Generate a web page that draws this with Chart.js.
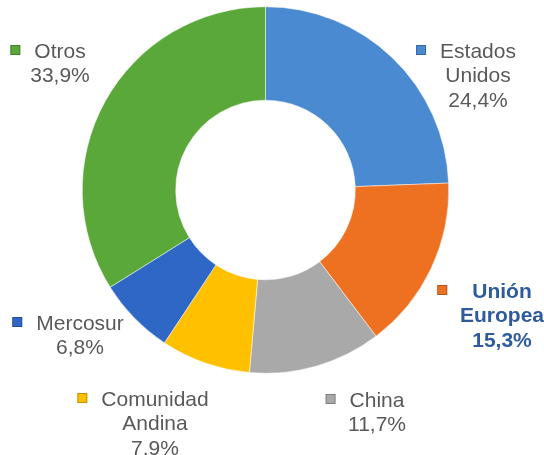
<!DOCTYPE html>
<html lang="es">
<head>
    <meta charset="UTF-8">
    <title>Destino de exportaciones</title>
    <style>
        body { margin: 0; background: #fff; }
        canvas { display: block; }
    </style>
</head>
<body>
    <canvas id="chart" width="544" height="455"></canvas>
    <script src="https://cdn.jsdelivr.net/npm/chart.js"></script>
    <script>
        // data
        const regions = ['Estados Unidos', 'Unión Europea', 'China', 'Comunidad Andina', 'Mercosur', 'Otros'];
        const labelLines = [['Estados', 'Unidos'], ['Unión', 'Europea'], ['China'], ['Comunidad', 'Andina'], ['Mercosur'], ['Otros']];
        const shares = [24.4, 15.3, 11.7, 7.9, 6.8, 33.9];
        const colors = ['#4a8ad0', '#ee7122', '#a9a9a9', '#ffc000', '#2f67c6', '#5ba83a'];

        // label placement (center x, first line y) per slice
        const labelSpots = [[478, 52], [502, 292], [377, 401], [155, 400], [80, 324], [60, 52]];
        const highlight = 1;

        const labelPlugin = {
            id: 'sliceLabels',
            afterDraw(chart) {
                const ctx = chart.ctx;
                ctx.save();
                ctx.textAlign = 'center';
                ctx.textBaseline = 'middle';
                shares.forEach((v, i) => {
                    const lines = labelLines[i].concat([v.toFixed(1).replace('.', ',') + '%']);
                    const bold = i === highlight;
                    ctx.font = (bold ? 'bold ' : '') + '21px "Liberation Sans", Arial, sans-serif';
                    ctx.fillStyle = bold ? '#2e5b9c' : '#595959';
                    const [cx, y0] = labelSpots[i];
                    lines.forEach((t, k) => ctx.fillText(t, cx, y0 + k * 24.5));
                    const w = ctx.measureText(lines[0]).width;
                    const mx = cx - w / 2 - (bold ? 35 : 24);
                    ctx.fillStyle = colors[i];
                    ctx.fillRect(mx, y0 - 7, 10, 10);
                    ctx.strokeStyle = 'rgba(0,0,0,0.25)';
                    ctx.lineWidth = 1;
                    ctx.strokeRect(mx + 0.5, y0 - 6.5, 9, 9);
                });
                ctx.restore();
            }
        };

        new Chart(document.getElementById('chart'), {
            type: 'doughnut',
            data: {
                labels: regions,
                datasets: [{
                    data: shares,
                    backgroundColor: colors,
                    borderColor: '#ffffff',
                    borderWidth: 0.5
                }]
            },
            options: {
                responsive: false,
                animation: false,
                cutout: '49%',
                layout: { padding: { top: 6, bottom: 81, left: 82, right: 95 } },
                plugins: {
                    legend: { display: false },
                    tooltip: { enabled: false }
                }
            },
            plugins: [labelPlugin]
        });
    </script>
</body>
</html>
